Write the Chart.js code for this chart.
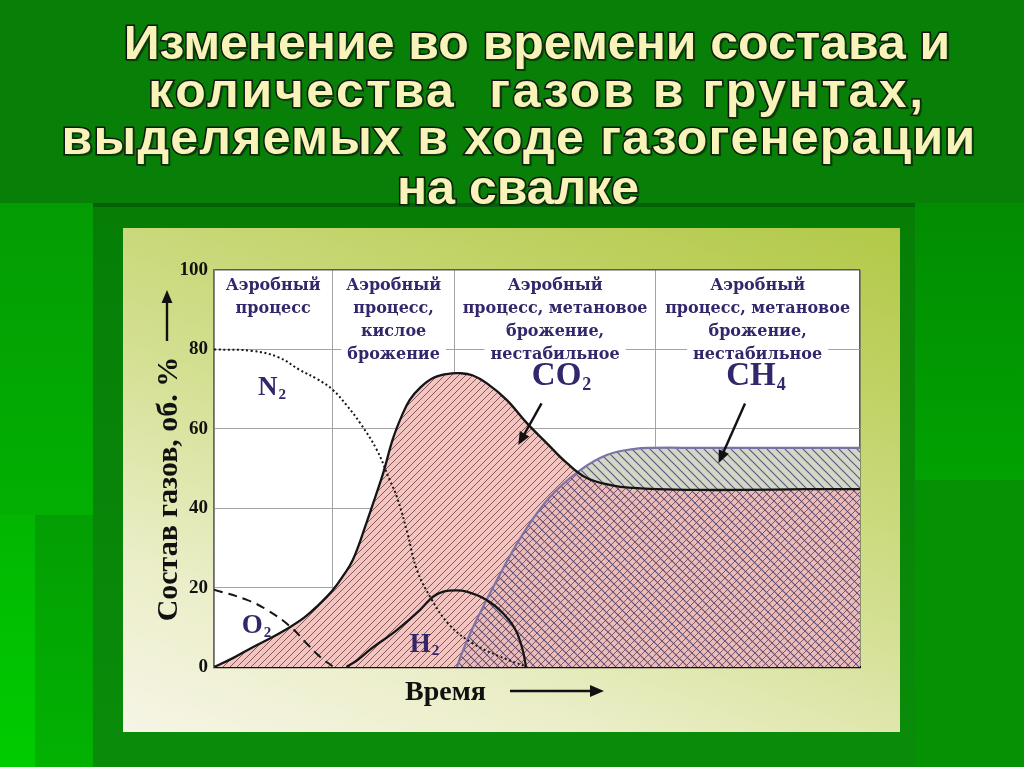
<!DOCTYPE html>
<html><head><meta charset="utf-8">
<script src="https://cdn.jsdelivr.net/npm/chart.js@4.4.1/dist/chart.umd.min.js"></script>
<style>
html,body{margin:0;padding:0;width:1024px;height:767px;overflow:hidden;background:#0a800a;}
.bg{position:absolute;}
.tl{position:absolute;left:0;width:1056px;height:48px;line-height:48px;text-align:center;white-space:pre;
 font-family:'Liberation Sans',Arial,sans-serif;font-weight:bold;font-size:48px;
 color:#f8f3b8;-webkit-text-stroke:3px #141414;paint-order:stroke fill;text-shadow:2px 2px 1px #0c3a0c;
 transform:scaleX(1.04);transform-origin:528px 50%;}
#panel{position:absolute;left:123px;top:228px;width:777px;height:504px;
 background:linear-gradient(200deg,#b2c948 0%,#bfd162 20%,#d3df90 50%,#ebeec8 78%,#f6f5e6 100%);}
#c{position:absolute;left:123px;top:228px;}
</style></head>
<body>
<div class="bg" style="left:0;top:0;width:1024px;height:203px;background:#088008"></div>
<div class="bg" style="left:0;top:203px;width:93px;height:312px;background:linear-gradient(#049c04,#02b002)"></div>
<div class="bg" style="left:0;top:515px;width:35px;height:252px;background:linear-gradient(#02b602,#00cc00)"></div>
<div class="bg" style="left:35px;top:515px;width:58px;height:252px;background:linear-gradient(#039e03,#02b202)"></div>
<div class="bg" style="left:93px;top:203px;width:822px;height:564px;background:linear-gradient(#067e06,#0a8c0a)"></div>
<div class="bg" style="left:93px;top:203px;width:822px;height:4px;background:#05600a"></div>
<div class="bg" style="left:915px;top:203px;width:109px;height:277px;background:linear-gradient(#028c02,#01a201)"></div>
<div class="bg" style="left:915px;top:480px;width:109px;height:287px;background:#049204"></div>
<div class="tl" style="top:19px;left:9px">Изменение во времени состава и</div>
<div class="tl" style="top:67px;left:9px;letter-spacing:2.5px">количества  газов в грунтах,</div>
<div class="tl" style="top:114px;left:-9px;letter-spacing:1.2px">выделяемых в ходе газогенерации</div>
<div class="tl" style="top:164px;left:-10px">на свалке</div>
<div id="panel"></div>
<canvas id="c" width="777" height="504"></canvas>
<script>
// ---- data (x: time, arbitrary units 0..100; y: gas composition, vol. %) ----
const phaseBounds = [18.3, 37.3, 68.3];
const yTickValues = [0, 20, 40, 60, 80, 100];
const phaseLabels = [
  ['Аэробный', 'процесс'],
  ['Аэробный', 'процесс,', 'кислое', 'брожение'],
  ['Аэробный', 'процесс, метановое', 'брожение,', 'нестабильное'],
  ['Аэробный', 'процесс, метановое', 'брожение,', 'нестабильное']
];
const n2X = [0, 6, 10, 13.3, 16, 18.4, 20.5, 22.6, 25.2, 27.2, 28.3, 29.9, 31.4, 33.7, 36.5, 40, 44, 48.5];
const n2Y = [80, 79.6, 78, 74.8, 72.5, 69.8, 66, 61.5, 54.7, 47.1, 42.9, 34, 24.5, 17, 10.5, 6, 2.8, 0];
const o2X = [0, 5.1, 8.2, 11.8, 14.3, 16.4, 18.5];
const o2Y = [19.5, 16.9, 14.4, 10.2, 6, 2.6, 0];
const h2X = [20.5, 22, 24.1, 28.3, 31.9, 33.9, 35.5, 37.5, 39.1, 42.2, 44.7, 46.9, 47.9, 48.3];
const h2Y = [0, 1.5, 4.3, 9.3, 14.4, 17.7, 19, 19.3, 19, 16.9, 13.6, 8.6, 3.5, 0];
const co2X = [0, 3, 6, 9, 11.8, 14, 15.9, 18.4, 20, 21.5, 23.6, 25, 26.2, 27.7, 29, 30.3, 32, 33.9, 36, 38.1, 40, 42.2, 45.3, 48.4, 51.5, 54.6, 57.7, 61.8, 65, 68.5, 75, 81.4, 91.7, 100];
const co2Y = [0, 2.3, 5, 7.5, 10.1, 12.5, 15.2, 19.4, 23, 27, 36.3, 43, 48.9, 57.5, 63, 67.3, 70.5, 72.8, 73.8, 74, 73.5, 71.5, 67.3, 61.5, 56.4, 51.4, 47.6, 45.7, 45.1, 44.8, 44.6, 44.6, 44.8, 44.8];
const ch4X = [37.6, 38.5, 40.1, 43.8, 47.9, 52, 56.7, 60.8, 64.9, 68, 75, 85, 100];
const ch4Y = [0, 4, 10, 21.9, 33.7, 42.8, 49.6, 53.4, 54.9, 55.2, 55.2, 55.2, 55.2];

// label anchors (data units)
const speciesLabels = [
  {t: 'N', s: '2', x: 6.8, y: 68.5, size: 27},
  {t: 'O', s: '2', x: 4.3, y: 8.6, size: 27},
  {t: 'H', s: '2', x: 30.3, y: 3.9, size: 27},
  {t: 'CO', s: '2', x: 49.2, y: 71, size: 33},
  {t: 'CH', s: '4', x: 79.3, y: 71, size: 33}
];
const pointerArrows = [
  {x1: 50.7, y1: 66.4, x2: 47.1, y2: 55.9},
  {x1: 82.2, y1: 66.4, x2: 78.1, y2: 51.3}
];

const pts = (xs, ys) => xs.map((x, i) => ({x, y: ys[i]}));

function hatch(size, bg, color, lw, dir) {
  const c = document.createElement('canvas');
  c.width = size; c.height = size;
  const g = c.getContext('2d');
  if (bg) { g.fillStyle = bg; g.fillRect(0, 0, size, size); }
  g.strokeStyle = color; g.lineWidth = lw;
  g.beginPath();
  if (dir > 0) {
    g.moveTo(-1, size + 1); g.lineTo(size + 1, -1);
    g.moveTo(-1, 1); g.lineTo(1, -1);
    g.moveTo(size - 1, size + 1); g.lineTo(size + 1, size - 1);
  } else {
    g.moveTo(-1, -1); g.lineTo(size + 1, size + 1);
    g.moveTo(size - 1, -1); g.lineTo(size + 1, 1);
    g.moveTo(-1, size - 1); g.lineTo(1, size + 1);
  }
  g.stroke();
  return g.createPattern(c, 'repeat');
}
const pinkPattern = hatch(7, '#f3c5c1', 'rgba(118,66,70,0.85)', 1, 1);
const ch4Pattern = hatch(9, 'rgba(110,60,80,0.06)', 'rgba(80,74,125,0.9)', 1.2, -1);

const inkColor = '#34266a';
const serif = '"Liberation Serif","Times New Roman",serif';

function drawSub(ctx, t, s, x, y, size) {
  ctx.font = `bold ${size}px ${serif}`;
  ctx.textAlign = 'left'; ctx.textBaseline = 'alphabetic';
  ctx.fillText(t, x, y);
  const w = ctx.measureText(t).width;
  ctx.font = `bold ${Math.round(size * 0.56)}px ${serif}`;
  ctx.fillText(s, x + w + 1, y + size * 0.14);
}
function drawArrow(ctx, x1, y1, x2, y2, head, lw) {
  const a = Math.atan2(y2 - y1, x2 - x1);
  ctx.beginPath(); ctx.lineWidth = lw;
  ctx.moveTo(x1, y1); ctx.lineTo(x2 - Math.cos(a) * head * 0.8, y2 - Math.sin(a) * head * 0.8); ctx.stroke();
  ctx.beginPath();
  ctx.moveTo(x2, y2);
  ctx.lineTo(x2 - head * Math.cos(a) + head * 0.42 * Math.sin(a), y2 - head * Math.sin(a) - head * 0.42 * Math.cos(a));
  ctx.lineTo(x2 - head * Math.cos(a) - head * 0.42 * Math.sin(a), y2 - head * Math.sin(a) + head * 0.42 * Math.cos(a));
  ctx.closePath(); ctx.fill();
}

const decor = {
  id: 'decor',
  beforeDraw(chart) {
    const {ctx, chartArea: a} = chart;
    ctx.save(); ctx.fillStyle = '#fff';
    ctx.fillRect(a.left, a.top, a.right - a.left, a.bottom - a.top);
    ctx.restore();
  },
  beforeDatasetsDraw(chart) {
    const {ctx, scales: {x, y}} = chart;
    const edges = [x.min, ...phaseBounds, x.max];
    ctx.save();
    ctx.font = `bold 16px "DejaVu Serif",serif`;
    ctx.textAlign = 'center'; ctx.textBaseline = 'middle';
    phaseLabels.forEach((lines, i) => {
      const cx = (x.getPixelForValue(edges[i]) + x.getPixelForValue(edges[i + 1])) / 2;
      lines.forEach((t, j) => {
        const cy = y.top + 16 + j * 22.8;
        const w = ctx.measureText(t).width;
        ctx.fillStyle = '#fff';
        ctx.fillRect(cx - w / 2 - 6, cy - 10, w + 12, 20);
        ctx.fillStyle = inkColor;
        ctx.fillText(t, cx, cy);
      });
    });
    ctx.restore();
  },
  afterDraw(chart) {
    const {ctx, scales: {x, y}, chartArea: a} = chart;
    ctx.save();
    ctx.fillStyle = inkColor;
    speciesLabels.forEach(l => drawSub(ctx, l.t, l.s, x.getPixelForValue(l.x), y.getPixelForValue(l.y), l.size));
    ctx.fillStyle = '#111'; ctx.strokeStyle = '#111';
    pointerArrows.forEach(p => drawArrow(ctx, x.getPixelForValue(p.x1), y.getPixelForValue(p.y1),
      x.getPixelForValue(p.x2), y.getPixelForValue(p.y2), 13, 2.4));
    // y axis title + arrow
    const yx = a.left - 45;
    ctx.save();
    ctx.translate(yx, 261); ctx.rotate(-Math.PI / 2);
    ctx.font = `bold 30px ${serif}`; ctx.textAlign = 'center'; ctx.textBaseline = 'middle';
    ctx.fillText('Состав газов, об. %', 0, 0);
    ctx.restore();
    drawArrow(ctx, yx - 2, 113, yx - 2, 62, 13, 2.4);
    // x axis title + arrow
    ctx.font = `bold 28px ${serif}`; ctx.textAlign = 'left'; ctx.textBaseline = 'alphabetic';
    ctx.fillText('Время', 282, 472);
    drawArrow(ctx, 387, 463, 481, 463, 14, 2.4);
    ctx.restore();
  }
};

const common = {pointRadius: 0, pointHoverRadius: 0, tension: 0.4};
new Chart(document.getElementById('c'), {
  type: 'line',
  data: {
    datasets: [
      Object.assign({label: 'CH4 base', data: pts(ch4X, ch4Y), fill: 'origin', backgroundColor: '#d9e2cd', borderWidth: 0, order: 10}, common),
      Object.assign({label: 'CO2 fill', data: pts(co2X, co2Y), fill: 'origin', backgroundColor: pinkPattern, borderWidth: 0, order: 9}, common),
      Object.assign({label: 'CH4', data: pts(ch4X, ch4Y), fill: 'origin', backgroundColor: ch4Pattern, borderColor: '#7c72a8', borderWidth: 2.2, order: 8}, common),
      Object.assign({label: 'CO2', data: pts(co2X, co2Y), fill: false, borderColor: '#151515', borderWidth: 2.3, order: 7}, common),
      Object.assign({label: 'N2', data: pts(n2X, n2Y), fill: false, borderColor: '#151515', borderWidth: 2, borderDash: [2, 2.6], order: 3}, common),
      Object.assign({label: 'O2', data: pts(o2X, o2Y), fill: false, borderColor: '#151515', borderWidth: 2, borderDash: [9, 6], order: 2}, common),
      Object.assign({label: 'H2', data: pts(h2X, h2Y), fill: false, borderColor: '#151515', borderWidth: 2.3, order: 1, cubicInterpolationMode: 'monotone'}, common)
    ]
  },
  options: {
    responsive: false, animation: false, devicePixelRatio: 1,
    layout: {padding: {left: 0, right: 40, top: 42, bottom: 0}},
    plugins: {legend: {display: false}, tooltip: {enabled: false}},
    scales: {
      x: {
        type: 'linear', min: 0, max: 100,
        afterBuildTicks: s => { s.ticks = [0, ...phaseBounds, 100].map(v => ({value: v})); },
        afterFit: s => { s.height = 65; },
        ticks: {display: false},
        grid: {drawTicks: false, color: c => c.tick && c.tick.value === 100 ? '#5a5a5a' : '#a4a4a4', lineWidth: c => c.tick && c.tick.value === 100 ? 1.6 : 1},
        border: {color: '#111', width: 2.2}
      },
      y: {
        min: 0, max: 100,
        afterBuildTicks: s => { s.ticks = yTickValues.map(v => ({value: v})); },
        afterFit: s => { s.width = 91; },
        ticks: {padding: 6, color: '#111', font: {family: serif, weight: 'bold', size: 19}},
        grid: {drawTicks: false, color: c => c.tick && c.tick.value === 100 ? '#5a5a5a' : '#a4a4a4', lineWidth: c => c.tick && c.tick.value === 100 ? 1.6 : 1},
        border: {color: '#6a6a6a', width: 1.5}
      }
    }
  },
  plugins: [decor]
});
</script>
</body></html>
